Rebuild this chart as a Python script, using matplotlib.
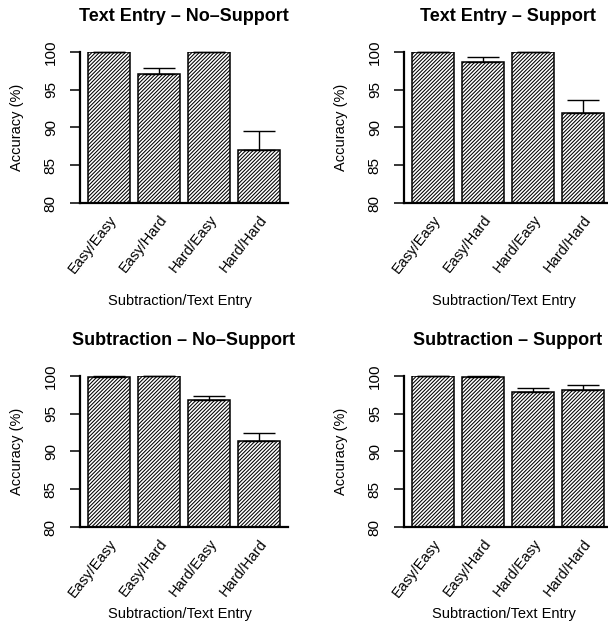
import numpy as np
import matplotlib
matplotlib.use('Agg')
import matplotlib.pyplot as plt

plt.rcParams['font.family'] = ['Liberation Sans', 'DejaVu Sans']
plt.rcParams['hatch.linewidth'] = 0.75

conditions = ['Easy/Easy', 'Easy/Hard', 'Hard/Easy', 'Hard/Hard']
titles = ['Text Entry \u2013 No\u2013Support', 'Text Entry \u2013 Support',
          'Subtraction \u2013 No\u2013Support', 'Subtraction \u2013 Support']

# mean accuracy (%) and upper error (se)
te_nosup = [100.0, 97.1, 100.0, 87.0]
te_nosup_err = [0.0, 0.8, 0.0, 2.6]
te_sup = [100.0, 98.7, 100.0, 91.9]
te_sup_err = [0.0, 0.6, 0.0, 1.7]
sub_nosup = [99.87, 100.0, 96.8, 91.4]
sub_nosup_err = [0.08, 0.0, 0.6, 1.0]
sub_sup = [99.96, 99.87, 97.9, 98.2]
sub_sup_err = [0.03, 0.08, 0.55, 0.6]

means = [te_nosup, te_sup, sub_nosup, sub_sup]
errs = [te_nosup_err, te_sup_err, sub_nosup_err, sub_sup_err]

W, H = 608, 628
fig = plt.figure(figsize=(W/100, H/100), dpi=100)

# pixel boxes: (left, top) of each plot region
boxes = [(80, 52), (404, 52), (80, 376), (404, 376)]
pw, ph = 208, 151
xlab_off = [-0.603, -0.603, -0.53, -0.53]

x = 0.7 + 1.2*np.arange(len(conditions))

for i in range(4):
    l, t = boxes[i]
    ax = fig.add_axes([l/W, 1-(t+ph)/H, pw/W, ph/H])
    ax.bar(x, means[i], width=1.0, bottom=0, color='white', edgecolor='black',
           linewidth=1.1, hatch='/'*9, zorder=2)
    ax.errorbar(x, means[i], yerr=[np.zeros(4), errs[i]], fmt='none',
                ecolor='black', elinewidth=1.0, capsize=11.5, capthick=1.0,
                zorder=3, clip_on=False)
    ax.set_xlim(0.016, 4.984)
    ax.set_ylim(80, 100)
    ax.set_yticks([80, 85, 90, 95, 100])
    ax.set_yticklabels(['80', '85', '90', '95', '100'], rotation=90,
                       va='center', fontsize=11)
    ax.tick_params(axis='y', length=7, width=1.1, pad=9)
    ax.set_xticks(x)
    ax.set_xticklabels(conditions, rotation=52, ha='right',
                       rotation_mode='anchor', fontsize=10.5)
    ax.tick_params(axis='x', length=0, pad=7)
    for s in ['top', 'right']:
        ax.spines[s].set_visible(False)
    ax.spines['left'].set_linewidth(1.6)
    ax.spines['bottom'].set_linewidth(1.6)
    ax.set_title(titles[i], fontsize=13, fontweight='bold', pad=22)
    ax.set_ylabel('Accuracy (%)', fontsize=10.5)
    ax.yaxis.set_label_coords(-56/pw, 0.5)
    ax.set_xlabel('Subtraction/Text Entry', fontsize=10.5)
    ax.xaxis.set_label_coords(0.48, xlab_off[i])

plt.savefig('out.png', dpi=100)
